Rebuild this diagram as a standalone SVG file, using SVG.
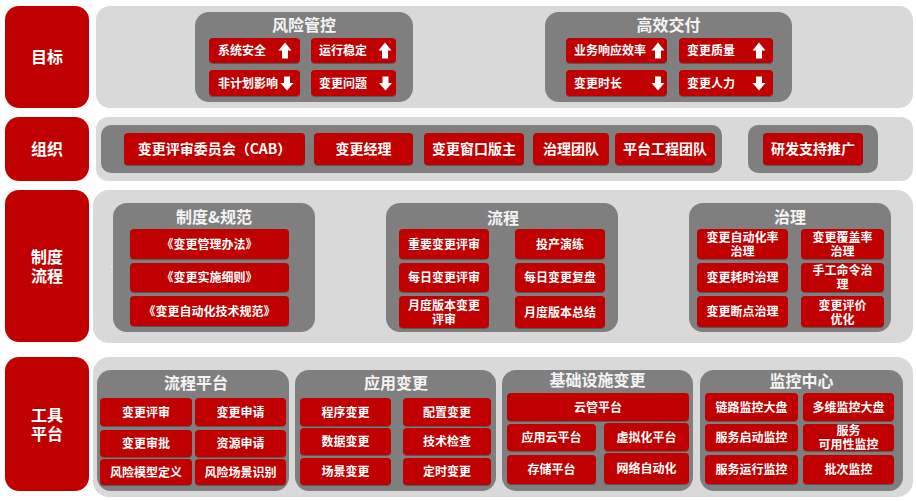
<svg xmlns="http://www.w3.org/2000/svg" xmlns:xlink="http://www.w3.org/1999/xlink" width="916" height="501" viewBox="0 0 916 501">
<defs>
<style>
.lbl{fill:#c00000}
.band{fill:#d9d9d9}
.grp{fill:#7f7f7f}
.it{fill:#c00000;filter:url(#sh)}
text{font-family:"Noto Sans CJK SC","Noto Sans",sans-serif;font-weight:bold;fill:#ffffff}
.big{font-size:16px;text-anchor:middle}
.h{font-size:16px;text-anchor:middle;fill:#f4f4f4}
.t{font-size:12px;text-anchor:middle}
.tl{font-size:12px;text-anchor:start}
.t2{font-size:14px;text-anchor:middle}
.ar{fill:#ffffff}
</style>
<filter id="sh" x="-10%" y="-10%" width="120%" height="130%">
<feDropShadow dx="0" dy="1" stdDeviation="0.6" flood-color="#000" flood-opacity="0.3"/>
</filter>
<path id="up" d="M0,-8 L6.5,0 L3,0 L3,8 L-3,8 L-3,0 L-6.5,0 Z"/>
<path id="dn" d="M0,7 L6.5,-0.5 L3,-0.5 L3,-7 L-3,-7 L-3,-0.5 L-6.5,-0.5 Z"/>
</defs>
<rect width="916" height="501" fill="#ffffff"/>

<!-- Row labels -->
<g id="label-goal"><rect class="lbl" x="5" y="6" width="84" height="102" rx="14"/><text class="big" x="47" y="63">目标</text></g>
<g id="label-org"><rect class="lbl" x="5" y="117" width="84" height="64" rx="14"/><text class="big" x="47" y="155">组织</text></g>
<g id="label-process"><rect class="lbl" x="5" y="190" width="84" height="152" rx="14"/><text class="big" x="47" y="263">制度<tspan x="47" dy="19">流程</tspan></text></g>
<g id="label-tools"><rect class="lbl" x="5" y="357" width="84" height="134" rx="14"/><text class="big" x="47" y="421">工具<tspan x="47" dy="19">平台</tspan></text></g>

<!-- Bands -->
<g id="bands">
<rect class="band" x="96" y="6" width="817" height="102" rx="14"/>
<rect class="band" x="96" y="117" width="817" height="64" rx="12"/>
<rect class="band" x="93" y="190" width="820" height="153" rx="16"/>
<rect class="band" x="93" y="357" width="820" height="140" rx="16"/>
</g>

<!-- Row 1 -->
<g id="risk-control">
<rect class="grp" x="195" y="12" width="218" height="90" rx="14"/>
<text class="h" x="304" y="31">风险管控</text>
<rect class="it" x="209" y="38" width="91" height="25" rx="4"/><text class="tl" x="218" y="55">系统安全</text>
<rect class="it" x="311" y="38" width="85" height="25" rx="4"/><text class="tl" x="319" y="55">运行稳定</text>
<rect class="it" x="209" y="70" width="91" height="26" rx="4"/><text class="tl" x="218" y="87.5">非计划影响</text>
<rect class="it" x="311" y="70" width="85" height="26" rx="4"/><text class="tl" x="319" y="87.5">变更问题</text>
<use href="#up" class="ar" x="285" y="50.5"/>
<use href="#up" class="ar" x="385" y="50.5"/>
<use href="#dn" class="ar" x="287" y="83.5"/>
<use href="#dn" class="ar" x="385.5" y="83.5"/>
</g>
<g id="efficient-delivery">
<rect class="grp" x="545" y="12" width="247" height="90" rx="14"/>
<text class="h" x="668.5" y="31">高效交付</text>
<rect class="it" x="566" y="38" width="101" height="25" rx="4"/><text class="tl" x="574" y="55">业务响应效率</text>
<rect class="it" x="679" y="38" width="94" height="25" rx="4"/><text class="tl" x="687" y="55">变更质量</text>
<rect class="it" x="566" y="70" width="101" height="26" rx="4"/><text class="tl" x="574" y="87.5">变更时长</text>
<rect class="it" x="679" y="70" width="94" height="26" rx="4"/><text class="tl" x="687" y="87.5">变更人力</text>
<use href="#up" class="ar" x="658" y="50.5"/>
<use href="#up" class="ar" x="759" y="50.5"/>
<use href="#dn" class="ar" x="658" y="83.5"/>
<use href="#dn" class="ar" x="759" y="83.5"/>
</g>

<!-- Row 2 -->
<g id="org-teams">
<rect class="grp" x="101" y="125" width="621" height="48" rx="10"/>
<rect class="it" x="124" y="133" width="181" height="32" rx="4"/><text class="t2" x="214.5" y="154">变更评审委员会（CAB）</text>
<rect class="it" x="314" y="133" width="99" height="32" rx="4"/><text class="t2" x="363.5" y="154">变更经理</text>
<rect class="it" x="424" y="133" width="100" height="32" rx="4"/><text class="t2" x="474" y="154">变更窗口版主</text>
<rect class="it" x="533" y="133" width="76" height="32" rx="4"/><text class="t2" x="571" y="154">治理团队</text>
<rect class="it" x="615" y="133" width="100" height="32" rx="4"/><text class="t2" x="665" y="154">平台工程团队</text>
</g>
<g id="org-support">
<rect class="grp" x="748" y="125" width="130" height="48" rx="10"/>
<rect class="it" x="763" y="133" width="100" height="32" rx="4"/><text class="t2" x="813" y="154">研发支持推广</text>
</g>

<!-- Row 3 -->
<g id="rules">
<rect class="grp" x="113" y="203" width="202" height="129" rx="14"/>
<text class="h" x="214" y="223">制度&amp;规范</text>
<rect class="it" x="130" y="229" width="159" height="30" rx="4"/><text class="t" x="209.5" y="248.5">《变更管理办法》</text>
<rect class="it" x="130" y="263" width="159" height="29" rx="4"/><text class="t" x="209.5" y="282">《变更实施细则》</text>
<rect class="it" x="130" y="296" width="159" height="30" rx="4"/><text class="t" x="209.5" y="315.5">《变更自动化技术规范》</text>
</g>
<text x="110" y="272" font-size="10" style="fill:#f0f0f0;font-weight:normal">:</text>
<g id="process">
<rect class="grp" x="386" y="203" width="232" height="129" rx="14"/>
<text class="h" x="503" y="224">流程</text>
<rect class="it" x="399" y="229" width="90" height="30" rx="4"/><text class="t" x="444" y="248.5">重要变更评审</text>
<rect class="it" x="399" y="263" width="90" height="29" rx="4"/><text class="t" x="444" y="282">每日变更评审</text>
<rect class="it" x="399" y="296" width="90" height="32" rx="4"/><text class="t" x="444" y="309.5">月度版本变更<tspan x="444" dy="14.5">评审</tspan></text>
<rect class="it" x="515" y="229" width="90" height="30" rx="4"/><text class="t" x="560" y="248.5">投产演练</text>
<rect class="it" x="515" y="263" width="90" height="29" rx="4"/><text class="t" x="560" y="282">每日变更复盘</text>
<rect class="it" x="515" y="296" width="90" height="32" rx="4"/><text class="t" x="560" y="316.5">月度版本总结</text>
</g>
<g id="governance">
<rect class="grp" x="689" y="203" width="202" height="129" rx="14"/>
<text class="h" x="790" y="223">治理</text>
<rect class="it" x="697" y="229" width="91" height="30" rx="4"/><text class="t" x="742.5" y="241.5">变更自动化率<tspan x="742.5" dy="14.5">治理</tspan></text>
<rect class="it" x="697" y="263" width="91" height="29" rx="4"/><text class="t" x="742.5" y="282">变更耗时治理</text>
<rect class="it" x="697" y="296" width="91" height="31" rx="4"/><text class="t" x="742.5" y="316">变更断点治理</text>
<rect class="it" x="801" y="229" width="83" height="30" rx="4"/><text class="t" x="842.5" y="241.5">变更覆盖率<tspan x="842.5" dy="14.5">治理</tspan></text>
<rect class="it" x="801" y="263" width="83" height="29" rx="4"/><text class="t" x="842.5" y="275">手工命令治<tspan x="842.5" dy="14">理</tspan></text>
<rect class="it" x="801" y="296" width="83" height="31" rx="4"/><text class="t" x="842.5" y="309.5">变更评价<tspan x="842.5" dy="14.5">优化</tspan></text>
</g>

<!-- Row 4 -->
<g id="flow-platform">
<rect class="grp" x="97" y="370" width="192" height="121" rx="14"/>
<text class="h" x="196" y="389">流程平台</text>
<rect class="it" x="100" y="398" width="92" height="28" rx="4"/><text class="t" x="146" y="416.5">变更评审</text>
<rect class="it" x="195" y="398" width="91" height="28" rx="4"/><text class="t" x="240.5" y="416.5">变更申请</text>
<rect class="it" x="100" y="430" width="92" height="27" rx="4"/><text class="t" x="146" y="448">变更审批</text>
<rect class="it" x="195" y="430" width="91" height="27" rx="4"/><text class="t" x="240.5" y="448">资源申请</text>
<rect class="it" x="100" y="459" width="92" height="26" rx="4"/><text class="t" x="146" y="476.5">风险模型定义</text>
<rect class="it" x="195" y="459" width="91" height="26" rx="4"/><text class="t" x="240.5" y="476.5">风险场景识别</text>
</g>
<g id="app-change">
<rect class="grp" x="295" y="370" width="201" height="121" rx="14"/>
<text class="h" x="396" y="389">应用变更</text>
<rect class="it" x="300" y="398" width="91" height="28" rx="4"/><text class="t" x="345.5" y="416.5">程序变更</text>
<rect class="it" x="403" y="398" width="88" height="28" rx="4"/><text class="t" x="447" y="416.5">配置变更</text>
<rect class="it" x="300" y="428" width="91" height="27" rx="4"/><text class="t" x="345.5" y="446">数据变更</text>
<rect class="it" x="403" y="428" width="88" height="27" rx="4"/><text class="t" x="447" y="446">技术检查</text>
<rect class="it" x="300" y="458" width="91" height="27" rx="4"/><text class="t" x="345.5" y="476">场景变更</text>
<rect class="it" x="403" y="458" width="88" height="27" rx="4"/><text class="t" x="447" y="476">定时变更</text>
</g>
<g id="infra-change">
<rect class="grp" x="502" y="370" width="191" height="121" rx="14"/>
<text class="h" x="597.5" y="386">基础设施变更</text>
<rect class="it" x="507" y="393" width="182" height="28" rx="4"/><text class="t" x="598" y="411.5">云管平台</text>
<rect class="it" x="507" y="424" width="89" height="27" rx="4"/><text class="t" x="551.5" y="442">应用云平台</text>
<rect class="it" x="604" y="423" width="85" height="28" rx="4"/><text class="t" x="646.5" y="441.5">虚拟化平台</text>
<rect class="it" x="507" y="455" width="89" height="29" rx="4"/><text class="t" x="551.5" y="474">存储平台</text>
<rect class="it" x="604" y="453" width="85" height="31" rx="4"/><text class="t" x="646.5" y="473">网络自动化</text>
</g>
<g id="monitor-center">
<rect class="grp" x="700" y="370" width="203" height="121" rx="14"/>
<text class="h" x="801.5" y="387">监控中心</text>
<rect class="it" x="705" y="393" width="93" height="28" rx="4"/><text class="t" x="751.5" y="411.5">链路监控大盘</text>
<rect class="it" x="803" y="393" width="91" height="28" rx="4"/><text class="t" x="848.5" y="411.5">多维监控大盘</text>
<rect class="it" x="705" y="424" width="93" height="27" rx="4"/><text class="t" x="751.5" y="442">服务启动监控</text>
<rect class="it" x="803" y="424" width="91" height="27" rx="4"/><text class="t" x="848.5" y="434.5">服务<tspan x="848.5" dy="14">可用性监控</tspan></text>
<rect class="it" x="705" y="455" width="93" height="29" rx="4"/><text class="t" x="751.5" y="474">服务运行监控</text>
<rect class="it" x="803" y="455" width="91" height="29" rx="4"/><text class="t" x="848.5" y="474">批次监控</text>
</g>
<g id="connectors"></g>
</svg>
